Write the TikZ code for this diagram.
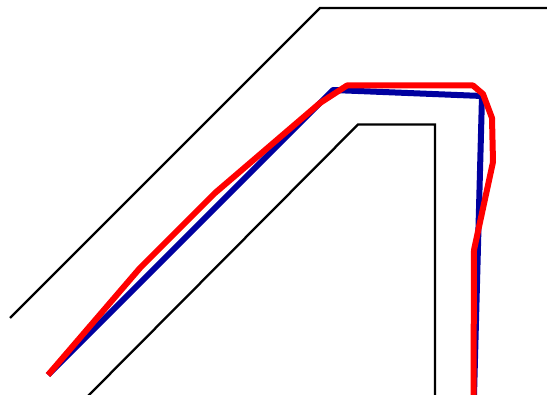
\documentclass[tikz,border=0pt]{standalone}
\usepackage{tikz}
\definecolor{pathblue}{HTML}{0000A0}
\definecolor{pathred}{HTML}{FF0000}
\tikzset{
  wall/.style={black, line width=2.3pt},
  bluepath/.style={pathblue, line width=6pt, line join=round},
  redpath/.style={pathred, line width=6pt, line join=round}
}
\begin{document}
\begin{tikzpicture}[x=1pt,y=-1pt]
\useasboundingbox (0,0) rectangle (547,395);
\fill[white] (0,0) rectangle (547,395);
% walls
\draw[wall] (10,318) -- (320,8) -- (548,8);
\draw[wall] (88,396) -- (358,124.5) -- (435,124.5) -- (435,396);
% blue path
\draw[bluepath] (48,375) -- (333,90) -- (482,96) -- (474,396);
% red path
\draw[redpath] (48,375) -- (140,268) -- (215,193) -- (320,103) -- (347,85.5) -- (473,85.5) -- (483,94) -- (492,118) -- (493,162) -- (474,250) -- (473.5,396);
\end{tikzpicture}
\end{document}
